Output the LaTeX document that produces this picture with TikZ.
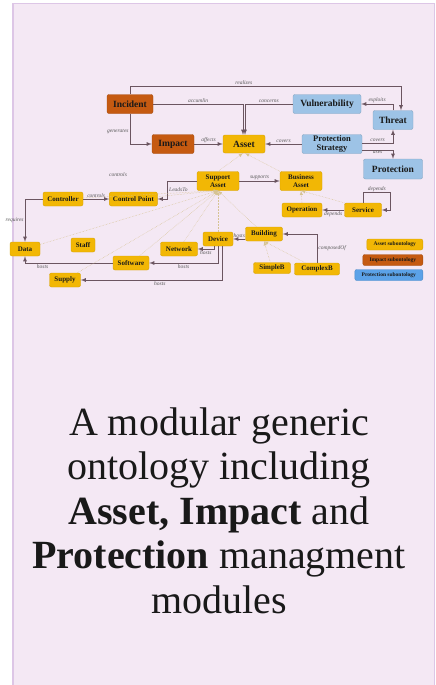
\documentclass[tikz,border=0pt]{standalone}
\usepackage{fontspec}
\setmainfont{Liberation Serif}
\usepackage{xcolor}
\usetikzlibrary{positioning}
\definecolor{card}{HTML}{F4E8F4}
\definecolor{cardline}{HTML}{DDC6E6}
\definecolor{gold}{HTML}{F2B705}
\definecolor{rust}{HTML}{C55A11}
\definecolor{sky}{HTML}{9DC3E6}
\definecolor{deepsky}{HTML}{5BA2E8}
\definecolor{link}{HTML}{6B5560}
\definecolor{tan}{HTML}{D6C393}

\begin{document}
\begin{tikzpicture}[x=1pt,y=-1pt,
      box/.style={rounded corners=2pt,align=center,inner sep=1pt,text=black!90,line width=.4pt},
      abox/.style={box,fill=gold,draw=gold!88!black,minimum height=14pt,font=\bfseries\fontsize{7}{7.5}\selectfont},
      big/.style={minimum height=19pt,font=\bfseries\fontsize{9.5}{10}\selectfont},
      ibox/.style={box,big,fill=rust,draw=rust!85!black},
      pbox/.style={box,big,fill=sky,draw=sky!85!black},
      key/.style={box,anchor=east,minimum height=11pt,font=\bfseries\fontsize{5.5}{6}\selectfont},
      arrow/.style={->,>=latex,link,line width=.8pt},
      isa/.style={->,>=latex,tan,densely dotted,line width=.5pt},
      rl/.style={font=\itshape\fontsize{5.5}{6}\selectfont,text=black!65,inner sep=1pt},
      title/.style={align=center,inner sep=0pt,text=black!90,font=\fontsize{40}{44.5}\selectfont}]
      \useasboundingbox (0,0) rectangle (436,685);
      \fill[white] (0,0) rectangle (436,685);
      \filldraw[fill=card,draw=cardline,line width=1.5pt] (13,3.5) rectangle (434.5,700);

      \node[ibox,minimum width=46pt] (inc) at (130,104) {Incident};
      \node[ibox,minimum width=42pt] (imp) at (173,144) {Impact};
      \node[abox,big,minimum width=42pt,minimum height=18pt] (ast) at (244,144) {Asset};
      \node[pbox,minimum width=68pt] (vul) at (327,104) {Vulnerability};
      \node[pbox,minimum width=40pt] (thr) at (393,120) {Threat};
      \node[pbox,minimum width=60pt,font=\bfseries\fontsize{8.5}{8.5}\selectfont] (pst) at (332,144) {Protection\\Strategy};
      \node[pbox,minimum width=59pt,minimum height=20pt] (prt) at (393,169) {Protection};

      \node[abox,minimum width=42pt,minimum height=19pt] (sup) at (218,181) {Support\\Asset};
      \node[abox,minimum width=42pt,minimum height=19pt] (bus) at (301,181) {Business\\Asset};
      \node[abox,minimum width=40pt] (opr) at (302,210) {Operation};
      \node[abox,minimum width=37pt] (srv) at (363,210) {Service};
      \node[abox,minimum width=40pt] (ctl) at (63,199) {Controller};
      \node[abox,minimum width=48pt,right=26pt of ctl] (cpt) {Control Point};
      \node[abox,minimum width=30pt] (dat) at (25,249) {Data};
      \node[abox,minimum width=24pt] (stf) at (83,245) {Staff};
      \node[abox,minimum width=37pt] (net) at (179,249) {Network};
      \node[abox,minimum width=36pt] (sft) at (131,263) {Software};
      \node[abox,minimum width=31pt] (spl) at (65,280) {Supply};
      \node[abox,minimum width=30pt] (dev) at (218,239) {Device};
      \node[abox,minimum width=37pt] (bld) at (264,234) {Building};
      \node[abox,minimum width=37pt,minimum height=11pt] (smp) at (272,268) {SimpleB};
      \node[abox,minimum width=45pt,minimum height=12pt] (cpx) at (317,269) {ComplexB};

      \node[key,fill=gold,draw=gold!88!black,minimum width=56pt] (kast) at (423,244.5) {Asset subontology};
      \node[key,fill=rust,draw=rust!85!black,minimum width=60pt] (kimp) at (423,260) {Impact subontology};
      \node[key,fill=deepsky,draw=deepsky!85!black,minimum width=68pt] (kprt) at (423,275) {Protection subontology};

      \draw[arrow] (inc.north) -- ++(0,-8) -| node[rl,above,pos=.21]{realizes} ([xshift=8pt]thr.north);
      \draw[arrow] (inc.east) -| node[rl,above,pos=.25]{accumlin} ([xshift=-1pt]ast.north);
      \draw[arrow] (vul.west) -| node[rl,above,pos=.25]{concerns} ([xshift=1pt]ast.north);
      \draw[arrow] (inc.south) |- node[rl,left,pos=.3]{generates} (imp.west);
      \draw[arrow] (imp) -- node[rl,above]{affects} (ast);
      \draw[arrow] (thr.north) |- node[rl,above,pos=.75]{exploits} (vul.east);
      \draw[arrow] (pst) -- node[rl,above]{covers} (ast);
      \draw[arrow] ([yshift=1pt]pst.east) -| node[rl,above,pos=.25]{covers} (thr.south);
      \draw[arrow] ([yshift=-6pt]pst.east) -| node[rl,below,pos=.25]{uses} (prt.north);

      \draw[arrow] (sup) -- node[rl,above]{supports} (bus);
      \draw[arrow] (srv) -- node[rl,below]{depends} (opr);
      \draw[arrow] (srv.north) -- ++(0,-10) -| node[rl,above,pos=.25]{depends} ([xshift=9pt]srv.east) -- (srv.east);
      \draw[arrow] (sup.west) -- ++(-29,0) |- node[rl,right,pos=.25]{LeadsTo} (cpt.east);
      \draw[arrow] (ctl) -- node[rl,above]{controls} (cpt);
      \node[rl] (ctlab) at (118,175) {controls};
      \draw[arrow] (ctl.west) -| node[rl,left,pos=.75]{requires} (dat.north);
      \draw[arrow] (sft.west) -| node[rl,below,pos=.4]{hosts} (dat.south);
      \draw[arrow] ([xshift=-4pt]dev.south) |- node[rl,below,pos=.75]{hosts} (net.east);
      \draw[arrow] (dev.south) |- node[rl,below,pos=.75]{hosts} (sft.east);
      \draw[arrow] ([xshift=4pt]dev.south) |- node[rl,below,pos=.72]{hosts} (spl.east);
      \draw[arrow] (bld.west |- dev) -- node[rl,above]{hosts} (dev);
      \draw[arrow] (cpx.north) |- node[rl,right,pos=.25]{composedOf} (bld.east);

      \draw[isa] (sup.north) -- ([xshift=-1pt]ast.south);
      \draw[isa] (bus.north west) -- ([xshift=1pt]ast.south);
      \draw[isa] (opr.north) -- (bus.south);
      \draw[isa] (srv.north west) -- (bus.south);
      \foreach \n in {ctl,cpt,dat,net,sft,spl,dev,bld}
        \draw[isa] (\n) -- (sup.south);
      \draw[isa] (smp) -- (bld.south);
      \draw[isa] (cpx) -- (bld.south);

      \node[title] (ttl) at (219,510.5) {A modular generic\\ontology including\\\textbf{Asset, Impact} and\\\textbf{Protection} managment\\modules};
    \end{tikzpicture}
\end{document}
